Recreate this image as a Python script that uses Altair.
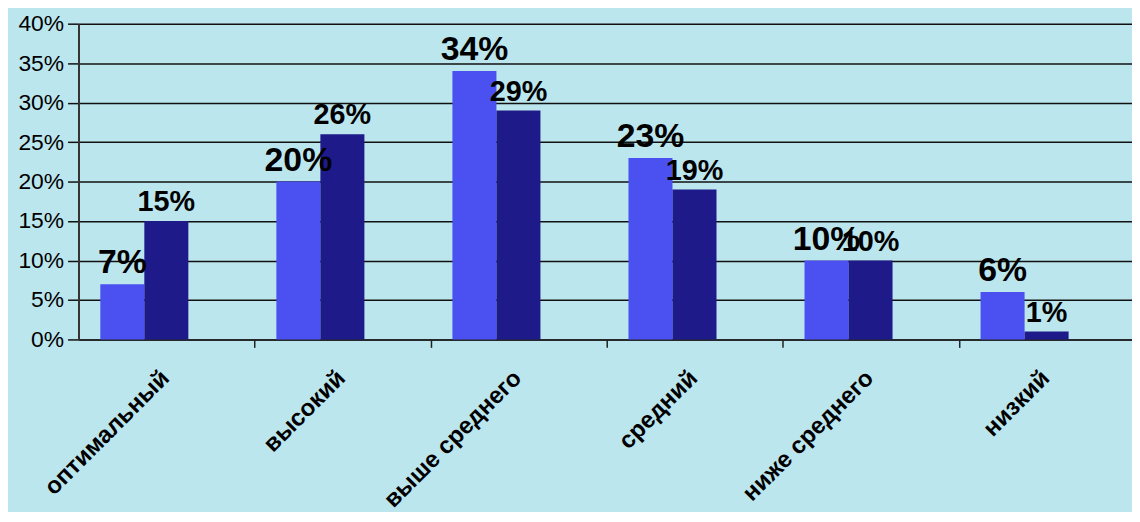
import altair as alt
import pandas as pd

categories = ["оптимальный", "высокий", "выше среднего", "средний", "ниже среднего", "низкий"]
series_names = ["Ряд 1", "Ряд 2"]
values_1 = [7, 20, 34, 23, 10, 6]
values_2 = [15, 26, 29, 19, 10, 1]
y_ticks = [0, 0.05, 0.10, 0.15, 0.20, 0.25, 0.30, 0.35, 0.40]
colors = ["#4B51F0", "#1E1A8A"]

rows = []
for c, a, b in zip(categories, values_1, values_2):
    rows.append({"cat": c, "series": series_names[0], "value": a / 100})
    rows.append({"cat": c, "series": series_names[1], "value": b / 100})
df = pd.DataFrame(rows)

FONT = "Liberation Sans"

x = alt.X(
    "cat:N",
    sort=categories,
    scale=alt.Scale(paddingInner=0.5, paddingOuter=0.242, align=0.256),
    axis=alt.Axis(
        title=None,
        labelAngle=-45,
        labelAlign="right",
        labelBaseline="middle",
        labelFont=FONT,
        labelFontSize=24,
        labelFontWeight="bold",
        labelColor="black",
        labelPadding=27,
        labelOffset=-90,
        labelLimit=400,
        tickOffset=111,
        tickSize=8,
        tickColor="#222222",
        tickWidth=1.5,
        domainColor="#222222",
        domainWidth=1.5,
        grid=False,
    ),
)
xo = alt.XOffset("series:N", sort=series_names,
                 scale=alt.Scale(paddingInner=0, paddingOuter=0))
y = alt.Y(
    "value:Q",
    scale=alt.Scale(domain=[0, 0.4], nice=False),
    axis=alt.Axis(
        title=None,
        format=".0%",
        values=y_ticks,
        tickSize=11,
        tickColor="#111111",
        tickWidth=1.5,
        grid=True,
        gridColor="#111111",
        gridWidth=1.5,
        domainColor="#333333",
        domainWidth=2,
        labelFont=FONT,
        labelFontSize=23,
        labelColor="black",
        labelPadding=4,
    ),
)

base = alt.Chart(df)
bars = base.mark_bar().encode(
    x=x, xOffset=xo, y=y,
    color=alt.Color("series:N", scale=alt.Scale(domain=series_names, range=colors), legend=None),
)
text1 = base.transform_filter(alt.datum.series == series_names[0]).mark_text(
    baseline="bottom", dy=-4, font=FONT, fontSize=34, fontWeight="bold", color="black"
).encode(x=x, xOffset=xo, y=y, text=alt.Text("value:Q", format=".0%"))
text2 = base.transform_filter(alt.datum.series == series_names[1]).mark_text(
    baseline="bottom", dy=-4, font=FONT, fontSize=29, fontWeight="bold", color="black"
).encode(x=x, xOffset=xo, y=y, text=alt.Text("value:Q", format=".0%"))

chart = alt.layer(bars, text1, text2).properties(
    width=1061,
    height=318,
    padding={"left": 71, "top": 14, "right": 0, "bottom": 172},
    autosize=alt.AutoSizeParams(type="none"),
    background="#BCE6EE",
).configure_view(stroke=None)

chart.save("out.html", embed_options={"renderer": "svg", "actions": False})
